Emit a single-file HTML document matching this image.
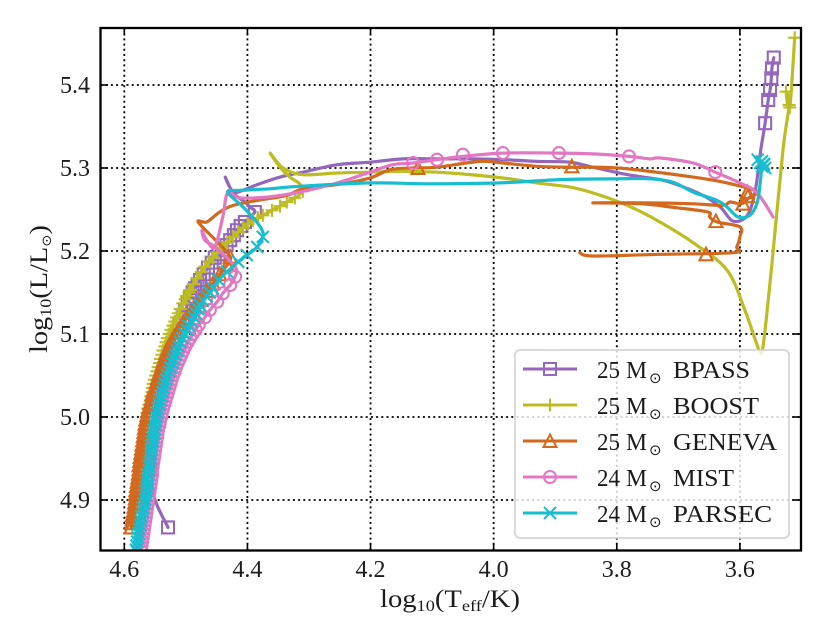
<!DOCTYPE html>
<html>
<head>
<meta charset="utf-8">
<title>HR diagram</title>
<style>
html,body{margin:0;padding:0;background:#fff;}
svg{display:block;}
text{font-family:"Liberation Serif","DejaVu Serif",serif;fill:#1c1c1c;}
</style>
</head>
<body>
<svg id="chart" xmlns="http://www.w3.org/2000/svg" width="830" height="642" viewBox="0 0 830 642">
  <defs><clipPath id="plot-clip"><rect x="100.5" y="28" width="700.5" height="522.5"/></clipPath></defs>
  <g id="grid"></g>
  <g id="series" clip-path="url(#plot-clip)"></g>
  <g id="legend">
    <rect x="515" y="350" width="274" height="188" rx="5" fill="#fff" fill-opacity="0.8" stroke="#cfcfcf" stroke-width="1.5"/>
  </g>
  <g id="ticks"></g>
  <rect x="100.5" y="28" width="700.5" height="522.5" fill="none" stroke="#000" stroke-width="2.3"/>
  <text x="380" y="607" font-size="25" textLength="140" lengthAdjust="spacingAndGlyphs">log<tspan font-size="16" dy="4">10</tspan><tspan dy="-4">(T</tspan><tspan font-size="16" dy="4">eff</tspan><tspan dy="-4">/K)</tspan></text>
  <text transform="translate(47,353) rotate(-90)" x="0" y="0" font-size="25" textLength="128" lengthAdjust="spacingAndGlyphs">log<tspan font-size="16" dy="4">10</tspan><tspan dy="-4">(L/L</tspan><tspan font-size="13" dy="4" style="font-family:'DejaVu Sans',sans-serif">⊙</tspan><tspan dy="-4">)</tspan></text>
</svg>
<script>
// Axis tick values
const xTicks = [4.6, 4.4, 4.2, 4.0, 3.8, 3.6];
const yTicks = [4.9, 5.0, 5.1, 5.2, 5.3, 5.4];
const xTickLabels = ["4.6", "4.4", "4.2", "4.0", "3.8", "3.6"];
const yTickLabels = ["4.9", "5.0", "5.1", "5.2", "5.3", "5.4"];

// BPASS 25 Msun
const bpassStartT = [4.529, 4.550];
const bpassStartL = [4.867, 4.900];
const bpassMsT = [4.557,4.558,4.553,4.545,4.534,4.523,4.518,4.514,4.510,4.505,4.501,4.497,4.493,4.489,4.485,4.481,4.477,4.471,4.464,4.458,4.453,4.447,4.441,4.434,4.428,4.422,4.417,4.411,4.404,4.388];
const bpassMsL = [4.936,4.972,5.000,5.027,5.057,5.081,5.093,5.102,5.111,5.120,5.128,5.137,5.145,5.150,5.155,5.160,5.165,5.172,5.180,5.186,5.192,5.196,5.201,5.207,5.213,5.219,5.225,5.230,5.235,5.247];
const bpassPostT = [4.396,4.404,4.423,4.436,4.428,4.420,4.384,4.347,4.310,4.254,4.201,4.147,4.092,4.038,3.985,3.930,3.876,3.839,3.783,3.730,3.702,3.660,3.632,3.611,3.588,3.575,3.566,3.559,3.554,3.551,3.549,3.548,3.545];
const bpassPostL = [5.253,5.259,5.270,5.289,5.276,5.270,5.280,5.289,5.295,5.304,5.307,5.311,5.311,5.311,5.310,5.308,5.307,5.301,5.292,5.286,5.280,5.267,5.253,5.236,5.243,5.273,5.322,5.354,5.382,5.394,5.408,5.420,5.433];
const bpassMarkT = [4.529,3.559,3.554,3.551,3.549,3.548,3.545];
const bpassMarkL = [4.867,5.354,5.382,5.394,5.408,5.420,5.433];

// BOOST 25 Msun
const boostMsT = [4.587,4.584,4.581,4.578,4.575,4.571,4.568,4.565,4.564,4.563,4.562,4.560,4.558,4.557,4.555,4.554,4.553,4.551,4.549,4.547,4.545,4.543,4.541,4.539,4.537,4.534,4.532,4.530,4.527,4.524,4.521,4.518,4.515,4.512,4.509,4.505,4.501,4.499,4.495,4.493,4.488,4.482,4.475,4.469,4.462,4.456,4.449,4.441,4.433,4.423,4.415,4.407,4.399,4.391,4.383,4.375,4.360,4.347,4.336,4.323,4.310];
const boostMsL = [4.870,4.888,4.906,4.924,4.942,4.960,4.978,4.996,5.000,5.005,5.010,5.015,5.020,5.025,5.030,5.035,5.040,5.045,5.050,5.055,5.060,5.065,5.070,5.075,5.080,5.085,5.090,5.095,5.100,5.105,5.110,5.115,5.120,5.125,5.130,5.137,5.142,5.146,5.150,5.153,5.160,5.167,5.175,5.181,5.187,5.192,5.198,5.204,5.210,5.217,5.223,5.228,5.233,5.237,5.240,5.243,5.249,5.254,5.259,5.264,5.272];
const boostPostT = [4.315,4.331,4.347,4.363,4.342,4.310,4.254,4.201,4.147,4.092,4.038,3.985,3.930,3.876,3.839,3.783,3.730,3.676,3.621,3.592,3.575,3.566,3.561,3.549,3.530,3.520,3.525,3.519,3.511];
const boostPostL = [5.281,5.289,5.301,5.318,5.300,5.292,5.294,5.295,5.296,5.295,5.292,5.288,5.282,5.277,5.270,5.255,5.235,5.210,5.177,5.129,5.093,5.077,5.093,5.177,5.322,5.376,5.392,5.373,5.457];
const boostMarkT = [3.520,3.525,3.519,3.511];
const boostMarkL = [5.376,5.392,5.373,5.457];

// GENEVA 25 Msun
const genevaMsT = [4.589,4.588,4.587,4.587,4.585,4.584,4.583,4.582,4.582,4.581,4.580,4.579,4.578,4.577,4.576,4.576,4.575,4.574,4.573,4.572,4.571,4.570,4.569,4.568,4.567,4.566,4.565,4.563,4.562,4.560,4.558,4.556,4.555,4.553,4.550,4.548,4.546,4.544,4.541,4.539,4.537,4.534,4.532,4.529,4.526,4.523,4.519,4.514,4.510,4.505,4.500,4.493,4.485,4.477,4.466,4.456,4.445,4.433,4.428];
const genevaMsL = [4.867,4.872,4.877,4.882,4.887,4.892,4.897,4.902,4.907,4.912,4.917,4.922,4.927,4.932,4.937,4.942,4.947,4.952,4.957,4.962,4.967,4.972,4.977,4.982,4.987,4.992,4.997,5.002,5.007,5.012,5.017,5.022,5.027,5.032,5.037,5.042,5.047,5.052,5.057,5.062,5.067,5.072,5.077,5.082,5.087,5.092,5.097,5.102,5.107,5.112,5.118,5.125,5.133,5.141,5.152,5.161,5.172,5.183,5.193];
const genevaPostT = [4.449,4.480,4.466,4.445,4.423,4.384,4.336,4.310,4.254,4.201,4.168,4.131,4.092,4.022,3.985,3.930,3.876,3.839,3.783,3.676,3.621,3.572,3.584,3.597,3.616,3.629,3.681,3.762,3.839,3.762,3.702,3.652,3.649,3.637,3.600,3.600,3.605,3.611,3.730,3.839,3.860];
const genevaPostL = [5.211,5.235,5.235,5.247,5.255,5.261,5.267,5.275,5.280,5.288,5.298,5.300,5.301,5.308,5.306,5.302,5.301,5.301,5.299,5.289,5.282,5.272,5.265,5.257,5.259,5.255,5.257,5.258,5.258,5.257,5.252,5.247,5.241,5.235,5.229,5.217,5.205,5.198,5.196,5.194,5.198];
const genevaMarkT = [4.123,3.873,3.655,3.639,3.595,3.587,3.588];
const genevaMarkL = [5.300,5.302,5.196,5.236,5.257,5.266,5.271];

// MIST 24 Msun
const mistMsT = [4.573,4.572,4.571,4.570,4.569,4.568,4.567,4.566,4.565,4.564,4.563,4.562,4.561,4.560,4.559,4.558,4.557,4.556,4.555,4.555,4.554,4.553,4.552,4.551,4.550,4.549,4.548,4.547,4.546,4.545,4.543,4.542,4.540,4.539,4.537,4.535,4.533,4.531,4.529,4.527,4.525,4.523,4.521,4.518,4.516,4.513,4.510,4.507,4.504,4.501,4.497,4.493,4.489,4.484,4.479,4.469,4.461,4.449,4.440,4.428,4.420];
const mistMsL = [4.840,4.845,4.850,4.855,4.860,4.865,4.870,4.875,4.880,4.885,4.890,4.895,4.900,4.905,4.910,4.915,4.920,4.925,4.930,4.935,4.940,4.945,4.950,4.955,4.960,4.965,4.970,4.975,4.980,4.985,4.990,4.995,5.000,5.005,5.010,5.015,5.020,5.025,5.030,5.035,5.040,5.045,5.050,5.055,5.060,5.065,5.070,5.075,5.080,5.085,5.090,5.095,5.100,5.105,5.111,5.120,5.129,5.139,5.149,5.159,5.169];
const mistPostT = [4.420,4.453,4.469,4.474,4.466,4.453,4.440,4.432,4.412,4.368,4.315,4.254,4.201,4.164,4.131,4.092,4.050,3.985,3.894,3.839,3.780,3.746,3.730,3.676,3.640,3.600,3.572,3.546];
const mistPostL = [5.181,5.205,5.213,5.225,5.213,5.205,5.241,5.270,5.264,5.265,5.271,5.282,5.295,5.304,5.306,5.310,5.314,5.318,5.318,5.317,5.314,5.311,5.312,5.306,5.295,5.282,5.270,5.241];
const mistMarkT = [4.131,4.092,4.050,3.985,3.894,3.780,3.640];
const mistMarkL = [5.306,5.310,5.316,5.318,5.318,5.314,5.295];

// PARSEC 24 Msun
const parsecMsT = [4.581,4.580,4.579,4.578,4.577,4.576,4.574,4.573,4.572,4.570,4.569,4.567,4.566,4.565,4.564,4.563,4.562,4.562,4.561,4.560,4.559,4.558,4.557,4.557,4.556,4.555,4.554,4.553,4.552,4.551,4.550,4.549,4.548,4.546,4.545,4.543,4.541,4.539,4.538,4.536,4.534,4.532,4.530,4.527,4.525,4.522,4.520,4.517,4.514,4.512,4.509,4.506,4.502,4.498,4.495,4.491,4.487,4.484,4.480,4.477,4.472,4.466,4.461,4.456,4.447,4.433,4.415,4.401,4.384,4.375];
const parsecMsL = [4.840,4.845,4.850,4.855,4.860,4.865,4.870,4.875,4.880,4.885,4.890,4.895,4.900,4.905,4.910,4.915,4.920,4.925,4.930,4.935,4.940,4.945,4.950,4.955,4.960,4.965,4.970,4.975,4.980,4.985,4.990,4.995,5.000,5.005,5.010,5.015,5.020,5.025,5.030,5.035,5.040,5.045,5.050,5.055,5.060,5.065,5.070,5.075,5.080,5.085,5.090,5.095,5.100,5.105,5.110,5.115,5.120,5.125,5.130,5.135,5.140,5.145,5.150,5.155,5.165,5.175,5.187,5.195,5.205,5.217];
const parsecPostT = [4.375,4.384,4.407,4.432,4.412,4.363,4.315,4.201,4.103,3.990,3.892,3.800,3.746,3.709,3.676,3.637,3.621,3.603,3.584,3.572,3.567,3.564];
const parsecPostL = [5.223,5.234,5.253,5.271,5.273,5.275,5.278,5.282,5.281,5.282,5.286,5.287,5.287,5.283,5.271,5.261,5.253,5.241,5.243,5.258,5.282,5.306];
const parsecMarkT = [3.571,3.567,3.564,3.561,3.564,3.559,3.561];
const parsecMarkL = [5.310,5.306,5.308,5.305,5.302,5.300,5.304];

// Legend text
const legendMasses = ["25", "25", "25", "24", "24"];
const legendModels = ["BPASS", "BOOST", "GENEVA", "MIST", "PARSEC"];
const legendModelWidths = [77, 86, 104, 61, 99];

const NS = "http://www.w3.org/2000/svg";
function xPos(t){ return 124.3 + (4.6 - t) * 615.6; }
function yPos(l){ return 85 + (5.4 - l) * 830; }

function make(tag, attrs, parent){
  const el = document.createElementNS(NS, tag);
  for (const k in attrs) el.setAttribute(k, attrs[k]);
  parent.appendChild(el);
  return el;
}

function markerPath(kind, x, y){
  if (kind === "square") return `M${x-6} ${y-6}H${x+6}V${y+6}H${x-6}Z`;
  if (kind === "plus") return `M${x-6.5} ${y}H${x+6.5}M${x} ${y-6.5}V${y+6.5}`;
  if (kind === "triangle") return `M${x} ${y-6.5}L${x+6.5} ${y+6}H${x-6.5}Z`;
  if (kind === "circle") return `M${x-6} ${y}A6 6 0 1 0 ${x+6} ${y}A6 6 0 1 0 ${x-6} ${y}Z`;
  return `M${x-6} ${y-6}L${x+6} ${y+6}M${x-6} ${y+6}L${x+6} ${y-6}`;
}

// Smooth path through the track's points (Catmull-Rom to Bezier)
function smoothPath(T, L){
  const X = T.map(xPos), Y = L.map(yPos);
  let d = `M${X[0].toFixed(1)} ${Y[0].toFixed(1)}`;
  for (let i = 0; i < X.length - 1; i++) {
    const a = Math.max(i - 1, 0), b = Math.min(i + 2, X.length - 1);
    const c1x = X[i] + (X[i+1] - X[a]) / 6, c1y = Y[i] + (Y[i+1] - Y[a]) / 6;
    const c2x = X[i+1] - (X[b] - X[i]) / 6, c2y = Y[i+1] - (Y[b] - Y[i]) / 6;
    d += `C${c1x.toFixed(1)} ${c1y.toFixed(1)} ${c2x.toFixed(1)} ${c2y.toFixed(1)} ${X[i+1].toFixed(1)} ${Y[i+1].toFixed(1)}`;
  }
  return d;
}

const gridG = document.getElementById("grid");
const ticksG = document.getElementById("ticks");
const seriesG = document.getElementById("series");
const legendG = document.getElementById("legend");

xTicks.forEach(function(t, i){
  const x = xPos(t);
  const gl = make("line", {x1:x, x2:x, y1:28, y2:550.5, stroke:"#000", "stroke-width":1.8, "stroke-dasharray":"2 3.2"}, gridG);
  
  
  const tb = make("line", {x1:x, x2:x, y1:550.5, y2:543, stroke:"#000", "stroke-width":1.6}, ticksG);
  
  
  const tt = make("line", {x1:x, x2:x, y1:28, y2:35.5, stroke:"#000", "stroke-width":1.6}, ticksG);
  
  
  const lb = make("text", {x:x, y:577, "text-anchor":"middle", "font-size":24}, ticksG);
  lb.textContent = xTickLabels[i];
  
  
});

yTicks.forEach(function(l, i){
  const y = yPos(l);
  const gl = make("line", {x1:100.5, x2:801, y1:y, y2:y, stroke:"#000", "stroke-width":1.8, "stroke-dasharray":"2 3.2"}, gridG);
  
  
  const tl = make("line", {x1:100.5, x2:108, y1:y, y2:y, stroke:"#000", "stroke-width":1.6}, ticksG);
  
  
  const tr = make("line", {x1:793.5, x2:801, y1:y, y2:y, stroke:"#000", "stroke-width":1.6}, ticksG);
  
  
  const lb = make("text", {x:90, y:y+8, "text-anchor":"end", "font-size":24}, ticksG);
  lb.textContent = yTickLabels[i];
  
  
});

function drawSeries(name, color, kind, T, L, markT, markL){
  const g = make("g", {}, seriesG);
  
  
  const line = make("path", {d:smoothPath(T, L), fill:"none", stroke:color, "stroke-width":3.2, "stroke-linejoin":"round", "stroke-linecap":"round"}, g);
  
  
  for (let i = 0; i < markT.length; i++) {
    const m = make("path", {d:markerPath(kind, xPos(markT[i]), yPos(markL[i])), fill:"none", stroke:color, "stroke-width":2.1}, g);
    
    
  }
}

drawSeries("bpass", "#9467bd", "square",
  bpassStartT.concat(bpassMsT, bpassPostT), bpassStartL.concat(bpassMsL, bpassPostL),
  bpassMsT.concat(bpassMarkT), bpassMsL.concat(bpassMarkL));
drawSeries("boost", "#bcbd22", "plus",
  boostMsT.concat(boostPostT), boostMsL.concat(boostPostL),
  boostMsT.concat(boostMarkT), boostMsL.concat(boostMarkL));
drawSeries("geneva", "#d2691e", "triangle",
  genevaMsT.concat(genevaPostT), genevaMsL.concat(genevaPostL),
  genevaMsT.concat(genevaMarkT), genevaMsL.concat(genevaMarkL));
drawSeries("mist", "#e377c2", "circle",
  mistMsT.concat(mistPostT), mistMsL.concat(mistPostL),
  mistMsT.concat(mistMarkT), mistMsL.concat(mistMarkL));
drawSeries("parsec", "#17becf", "cross",
  parsecMsT.concat(parsecPostT), parsecMsL.concat(parsecPostL),
  parsecMsT.concat(parsecMarkT), parsecMsL.concat(parsecMarkL));

const legendColors = ["#9467bd", "#bcbd22", "#d2691e", "#e377c2", "#17becf"];
const legendKinds = ["square", "plus", "triangle", "circle", "cross"];
legendModels.forEach(function(model, i){
  const cy = 369 + i * 36;
  const g = make("g", {}, legendG);
  
  
  make("line", {x1:523, x2:577, y1:cy, y2:cy, stroke:legendColors[i], "stroke-width":3}, g);
  make("path", {d:markerPath(legendKinds[i], 550, cy), fill:"none", stroke:legendColors[i], "stroke-width":2}, g);
  const a = make("text", {x:597, y:cy+9, "font-size":24, textLength:23, lengthAdjust:"spacingAndGlyphs"}, g);
  a.textContent = legendMasses[i];
  const b = make("text", {x:626, y:cy+9, "font-size":24, textLength:21, lengthAdjust:"spacingAndGlyphs"}, g);
  b.textContent = "M";
  const c = make("text", {x:649, y:cy+14, "font-size":15, style:"font-family:'DejaVu Sans',sans-serif"}, g);
  c.textContent = "⊙";
  const d = make("text", {x:673, y:cy+9, "font-size":24, textLength:legendModelWidths[i], lengthAdjust:"spacingAndGlyphs"}, g);
  d.textContent = model;
});
</script>
</body>
</html>
